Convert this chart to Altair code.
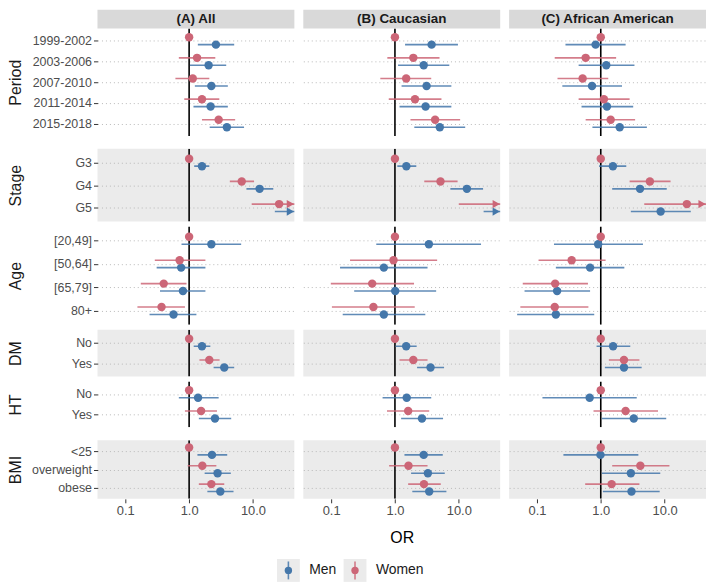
import altair as alt
import pandas as pd

nan = float("nan")

# ---------------- data ----------------
POPULATIONS = ["(A) All", "(B) Caucasian", "(C) African American"]
GROUPS = ["Period", "Stage", "Age", "DM", "HT", "BMI"]
GROUP_SIZES = [5, 3, 4, 2, 2, 3]
LEVELS = ["1999-2002", "2003-2006", "2007-2010", "2011-2014", "2015-2018",
          "G3", "G4", "G5",
          "[20,49]", "[50,64]", "[65,79]", "80+",
          "No", "Yes",
          "No", "Yes",
          "<25", "overweight", "obese"]
SEXES = ["Men", "Women"]

# (A) All
A_MEN_OR = [2.63, 2.02, 2.23, 2.17, 3.9, 1.59, 12.7, 60, 2.23, 0.75, 0.80, 0.57, 1.59, 3.55, 1.38, 2.54, 2.28, 2.79, 3.08]
A_MEN_LO = [1.37, 1.03, 1.23, 1.17, 2.1, 1.2, 7.9, 22, 0.76, 0.31, 0.35, 0.24, 1.18, 2.42, 0.69, 1.42, 1.35, 1.75, 1.93]
A_MEN_HI = [5.08, 3.81, 4.04, 4.04, 7.25, 2.07, 20.8, 160, 6.53, 1.8, 1.8, 1.3, 2.15, 5.08, 2.9, 4.56, 3.95, 4.5, 4.96]
A_WOM_OR = [1, 1.33, 1.14, 1.59, 2.9, 1, 6.67, 25.7, 1, 0.71, 0.40, 0.37, 1, 2.07, 1, 1.54, 1, 1.61, 2.23]
A_WOM_LO = [nan, 0.69, 0.61, 0.84, 1.59, nan, 4.34, 9.55, nan, 0.29, 0.175, 0.155, nan, 1.45, nan, 0.86, nan, 0.95, 1.42]
A_WOM_HI = [nan, 2.57, 2.07, 2.97, 5.26, nan, 10.4, 70, nan, 1.8, 0.91, 0.86, nan, 3.0, nan, 2.73, nan, 2.67, 3.55]

# (B) Caucasian
B_MEN_OR = [3.75, 2.82, 3.13, 3.02, 5.04, 1.51, 13.4, 90, 3.4, 0.67, 1.01, 0.67, 1.5, 3.61, 1.53, 2.65, 2.82, 3.28, 3.44]
B_MEN_LO = [1.44, 1.12, 1.27, 1.18, 2.01, 1.09, 7.38, 24.5, 0.51, 0.138, 0.23, 0.152, 1.02, 2.22, 0.64, 1.25, 1.41, 1.79, 1.87]
B_MEN_HI = [9.7, 7.1, 7.65, 7.65, 12.6, 2.16, 24, 330, 22.3, 3.24, 4.42, 2.99, 2.19, 5.88, 3.7, 5.67, 5.61, 6.03, 6.4]
B_WOM_OR = [1, 1.94, 1.5, 2.06, 4.26, 1, 5.17, 60, 1, 0.95, 0.44, 0.46, 1, 1.94, 1, 1.61, 1, 1.63, 2.85]
B_WOM_LO = [nan, 0.76, 0.59, 0.80, 1.75, nan, 2.88, 10.0, nan, 0.198, 0.099, 0.103, nan, 1.18, nan, 0.75, nan, 0.81, 1.61]
B_WOM_HI = [nan, 4.99, 3.7, 5.35, 10.5, nan, 9.58, 360, nan, 4.58, 1.99, 2.04, nan, 3.24, nan, 3.44, nan, 3.24, 5.22]

# (C) African American
C_MEN_OR = [0.83, 1.22, 0.73, 1.25, 1.98, 1.55, 4.12, 8.67, 0.91, 0.68, 0.207, 0.198, 1.56, 2.31, 0.67, 3.29, 0.99, 2.96, 3.03]
C_MEN_LO = [0.28, 0.45, 0.25, 0.50, 0.74, 0.94, 1.51, 2.96, 0.185, 0.198, 0.064, 0.049, 0.86, 1.16, 0.122, 1.04, 0.26, 1.04, 1.08]
C_MEN_HI = [2.45, 3.37, 2.15, 3.22, 5.28, 2.51, 10.8, 25.7, 4.58, 2.34, 0.68, 0.79, 2.9, 4.37, 3.66, 10.6, 3.88, 8.55, 8.37]
C_WOM_OR = [1, 0.58, 0.52, 1.12, 1.43, 1, 5.88, 22.3, 1, 0.35, 0.193, 0.19, 1, 2.31, 1, 2.45, 1, 4.17, 1.48]
C_WOM_LO = [nan, 0.19, 0.21, 0.45, 0.58, nan, 2.83, 4.8, nan, 0.106, 0.06, 0.055, nan, 1.34, nan, 0.77, nan, 1.51, 0.57]
C_WOM_HI = [nan, 1.74, 1.31, 2.83, 3.45, nan, 12.4, 80, nan, 1.19, 0.63, 0.64, nan, 4.03, nan, 7.89, nan, 11.9, 4.03]

SERIES = {
    POPULATIONS[0]: (A_MEN_OR, A_MEN_LO, A_MEN_HI, A_WOM_OR, A_WOM_LO, A_WOM_HI),
    POPULATIONS[1]: (B_MEN_OR, B_MEN_LO, B_MEN_HI, B_WOM_OR, B_WOM_LO, B_WOM_HI),
    POPULATIONS[2]: (C_MEN_OR, C_MEN_LO, C_MEN_HI, C_WOM_OR, C_WOM_LO, C_WOM_HI),
}
REF_OR = [1.0]
X_TICKS = [0.1, 1, 10]

# ---------------- styling ----------------
XMIN, XMAX = 0.0367, 44.5
BLUE, PINK = "#4477AA", "#CC6677"
GRAY_BG = "#ebebeb"
PANEL_W = 198
HEIGHTS = {"Period": 108, "Stage": 73, "Age": 99, "DM": 47, "HT": 46, "BMI": 59}
GRAY_GROUPS = {"Stage", "DM", "BMI"}

group_of = []
for g, n in zip(GROUPS, GROUP_SIZES):
    group_of += [g] * n

records = []
for pop, (mo, ml, mh, wo, wl, wh) in SERIES.items():
    for i, lev in enumerate(LEVELS):
        records.append(dict(pop=pop, group=group_of[i], level=lev, sex="Men", OR=mo[i], lo=ml[i], hi=mh[i]))
        records.append(dict(pop=pop, group=group_of[i], level=lev, sex="Women", OR=wo[i], lo=wl[i], hi=wh[i]))
df = pd.DataFrame(records)

color_enc = alt.Color("sex:N", scale=alt.Scale(domain=SEXES, range=[BLUE, PINK]), legend=None)
xscale = alt.Scale(type="log", domain=[XMIN, XMAX], nice=False)


def panel(col, group, top, bottom):
    pop = POPULATIONS[col]
    d = df[(df["pop"] == pop) & (df["group"] == group)]
    levels = list(dict.fromkeys(d["level"]))
    n = len(levels)
    h = HEIGHTS[group]
    step = h / (n + 0.2)
    off = 0.18 * step

    if bottom:
        ax_kw = dict(values=X_TICKS, format=".1f", labelFontSize=13, labelColor="#4d4d4d",
                     tickSize=4, tickColor="#333333", labelPadding=2, domain=False, grid=False,
                     labelFlush=False)
        if col == 1:
            ax_kw.update(title="OR", titleFontSize=16, titleFontWeight="normal",
                         titleColor="#000000", titlePadding=12)
        else:
            ax_kw.update(title=None)
        xaxis = alt.Axis(**ax_kw)
    else:
        xaxis = None

    def X(field):
        return alt.X(f"{field}:Q", scale=xscale, axis=xaxis, title="OR" if (bottom and col == 1) else None)

    if col == 0:
        yaxis = alt.Axis(title=group, titleFontSize=16, titleFontWeight="normal", titleColor="#1a1a1a",
                         titlePadding=2, labelFontSize=12.5, labelColor="#4d4d4d", labelPadding=2,
                         tickSize=4, tickColor="#333333", domain=False, grid=True, gridColor="#b8b8b8",
                         gridDash=[1, 3], minExtent=72, maxExtent=72, labelLimit=200)
    else:
        yaxis = alt.Axis(title=None, labels=False, ticks=False, domain=False, grid=True,
                         gridColor="#b8b8b8", gridDash=[1, 3], minExtent=0, maxExtent=0)

    Y = alt.Y("level:N", scale=alt.Scale(type="point", domain=levels, padding=0.6), axis=yaxis)
    YO = alt.YOffset("sex:N", scale=alt.Scale(type="point", domain=["Women", "Men"], range=[-off, off], padding=0))

    layers = []
    if top:
        strip_df = pd.DataFrame({"label": [pop]})
        layers.append(alt.Chart(strip_df).mark_rect(color="#d9d9d9").encode(
            x=alt.value(0), x2=alt.value(PANEL_W), y=alt.value(-19), y2=alt.value(0)))
        layers.append(alt.Chart(strip_df).mark_text(fontSize=13.5, fontWeight="bold", color="#1a1a1a").encode(
            x=alt.value(PANEL_W / 2), y=alt.value(-9.5), text="label:N"))

    layers.append(alt.Chart(pd.DataFrame({"ref": REF_OR})).mark_rule(
        color="#000000", strokeWidth=1.6, clip=True).encode(x=X("ref")))
    layers.append(alt.Chart(d.dropna(subset=["lo"])).mark_rule(strokeWidth=1.6, opacity=0.85, clip=True).encode(
        x=X("lo"), x2="hi:Q", y=Y, yOffset=YO, color=color_enc))
    layers.append(alt.Chart(d).mark_circle(size=72, opacity=1, clip=True).encode(
        x=X("OR"), y=Y, yOffset=YO, color=color_enc))
    arr = d[d["hi"] > XMAX].copy()
    if len(arr):
        arr["edge"] = XMAX
        layers.append(alt.Chart(arr).mark_point(shape="triangle-right", filled=True, size=70,
                                                 opacity=1, xOffset=-4).encode(
            x=X("edge"), y=Y, yOffset=YO, color=color_enc))

    fill = GRAY_BG if group in GRAY_GROUPS else "#ffffff"
    return alt.layer(*layers).properties(width=PANEL_W, height=h,
                                         view=alt.ViewBackground(fill=fill, stroke=None))


def row(group, top=False, bottom=False):
    return alt.hconcat(*[panel(c, group, top, bottom) for c in range(3)], spacing=9)


inner = alt.vconcat(row("Stage"), row("Age"), row("DM"), row("HT"), spacing=5)
main = alt.vconcat(row("Period", top=True), inner, row("BMI", bottom=True), spacing=13)

# legend built from the series names (aligned with the panels' plot areas)
leg_df = pd.DataFrame({"sex": SEXES})
lx = alt.X("sex:N", scale=alt.Scale(type="point", domain=SEXES, range=[192, 259], padding=0), axis=None)
legend = alt.layer(
    alt.Chart(leg_df).mark_square(size=529, color="#ebebeb", opacity=1, filled=True).encode(x=lx, y=alt.value(12)),
    alt.Chart(leg_df).mark_rule(strokeWidth=1.6, opacity=0.85).encode(x=lx, y=alt.value(3), y2=alt.value(21), color=color_enc),
    alt.Chart(leg_df).mark_circle(size=55, opacity=1).encode(x=lx, y=alt.value(12), color=color_enc),
    alt.Chart(leg_df).mark_text(align="left", dx=21, fontSize=14, color="#1a1a1a").encode(
        x=lx, y=alt.value(12), text="sex:N"),
).properties(width=612, height=24, view=alt.ViewBackground(stroke=None))

chart = alt.vconcat(main, legend, spacing=13).properties(
    padding={"left": 0, "top": 0, "right": 0, "bottom": 0}, background="white"
).configure(font="Liberation Sans").configure_view(stroke=None)

chart.save("out.html", embed_options={"renderer": "svg", "actions": False})
